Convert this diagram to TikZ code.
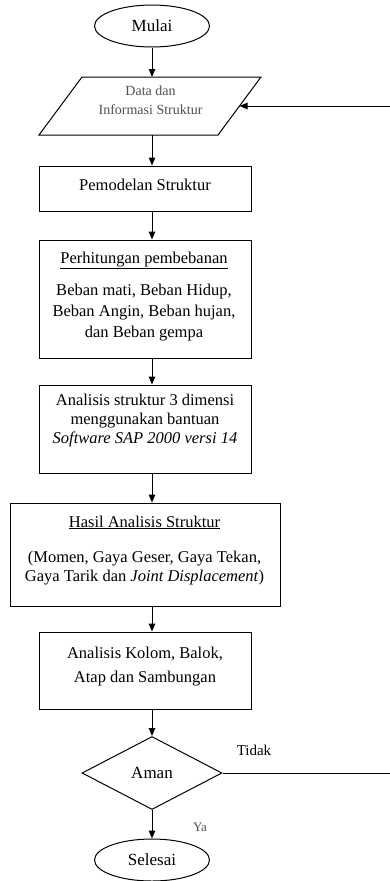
\documentclass[tikz,border=0pt]{standalone}
\usepackage{fontspec}
\setmainfont{Liberation Serif}
\usetikzlibrary{shapes.geometric,arrows.meta}
\definecolor{txtgray}{HTML}{505050}
\begin{document}
\begin{tikzpicture}[x=1pt,y=-1pt,
  line/.style={draw,line width=1pt},
  arr/.style={line,-{Triangle[length=8pt,width=6.5pt]}},
  box/.style={line,rectangle,inner sep=0pt,minimum width=212pt},
  term/.style={line,ellipse,minimum width=115pt,minimum height=42pt,inner sep=0pt,font=\fontsize{17}{20}\selectfont},
  txt/.style={anchor=base,inner sep=0pt,font=\fontsize{16.5}{19}\selectfont},
  small/.style={anchor=base,inner sep=0pt,font=\fontsize{14}{17}\selectfont,text=txtgray}]
\useasboundingbox (0,0) rectangle (390,881);
% shapes
\node[term] (mulai) at (152,26) {Mulai};
\coordinate (dTL) at (82,77);
\coordinate (dTR) at (261,77);
\coordinate (dBR) at (218,135);
\coordinate (dBL) at (39,135);
\draw[line,line join=miter] (dBL) -- (dTL) -- (dTR) -- (dBR) -- cycle;
\coordinate (dataR) at (239.5,106);
\node[small] (data1) at (150.5,95) {Data dan};
\node[small] (data2) at (150.5,114) {Informasi Struktur};

\node[box,minimum height=45pt] (pemodel) at (145,188.5) {};
\node[txt] (pemodelt) at (145,190) {Pemodelan Struktur};

\node[box,minimum height=118pt] (perhit) at (145,299) {};
\node[txt] (perhit1) at (144,263) {\underline{Perhitungan pembebanan}};
\node[txt] (perhit2) at (144,295) {Beban mati, Beban Hidup,};
\node[txt] (perhit3) at (144,316) {Beban Angin, Beban hujan,};
\node[txt] (perhit4) at (144,337) {dan Beban gempa};

\node[box,minimum height=88pt] (anal) at (145,429) {};
\node[txt] (anal1) at (145,405) {Analisis struktur 3 dimensi};
\node[txt] (anal2) at (145,424) {menggunakan bantuan};
\node[txt] (anal3) at (145,443) {\textit{Software SAP 2000 versi 14}};

\node[box,minimum width=270pt,minimum height=103pt] (hasil) at (145,554.5) {};
\node[txt] (hasil1) at (144.5,527) {\underline{Hasil Analisis Struktur}};
\node[txt] (hasil2) at (144.5,562) {(Momen, Gaya Geser, Gaya Tekan,};
\node[txt] (hasil3) at (144.5,581) {Gaya Tarik dan \textit{Joint Displacement})};

\node[box,minimum height=77pt] (kolom) at (145,670.5) {};
\node[txt] (kolom1) at (145,658) {Analisis Kolom, Balok,};
\node[txt] (kolom2) at (145,682) {Atap dan Sambungan};

\node[line,diamond,minimum width=140pt,minimum height=73pt,inner sep=0pt,
      font=\fontsize{17}{20}\selectfont] (aman) at (152,773) {Aman};
\node[term] (selesai) at (152,860) {Selesai};

\node[anchor=base,inner sep=0pt,font=\fontsize{15}{18}\selectfont] (tidak) at (254,755) {Tidak};
\node[anchor=base,inner sep=0pt,font=\fontsize{13}{15}\selectfont,text=txtgray] (ya) at (200,831) {Ya};

\coordinate (r1) at (390,106);
\coordinate (r2) at (390,773);
\coordinate (dataTop) at (152,77);
\coordinate (dataBot) at (152,135);

% connectors
\draw[arr] (mulai.south) -- (dataTop);
\draw[arr] (dataBot) -- (pemodel.north -| mulai);
\draw[arr] (pemodel.south -| mulai) -- (perhit.north -| mulai);
\draw[arr] (perhit.south -| mulai) -- (anal.north -| mulai);
\draw[arr] (anal.south -| mulai) -- (hasil.north -| mulai);
\draw[arr] (hasil.south -| mulai) -- (kolom.north -| mulai);
\draw[arr] (kolom.south -| mulai) -- (aman.north);
\draw[arr] (aman.south) -- (selesai.north);
\draw[line] (aman.east) -- (r2);
\draw[arr] (r1) -- (dataR);
\end{tikzpicture}
\end{document}
